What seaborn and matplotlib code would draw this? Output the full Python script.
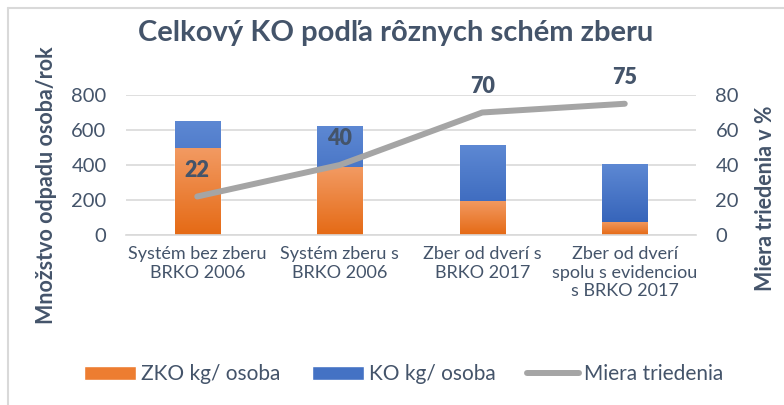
import numpy as np
import pandas as pd
import matplotlib
matplotlib.use("Agg")
import matplotlib.pyplot as plt
import seaborn as sns
from matplotlib.colors import LinearSegmentedColormap
from matplotlib.patches import Patch
from matplotlib.lines import Line2D

# data
categories = ["Systém bez zberu\nBRKO 2006", "Systém zberu s\nBRKO 2006",
              "Zber od dverí s\nBRKO 2017", "Zber od dverí\nspolu s evidenciou\ns BRKO 2017"]
zko = [496, 387, 196, 75]          # ZKO kg/ osoba
ko = [156, 236, 317, 329]          # KO kg/ osoba (stacked on top)
triedenie = [22, 40, 70, 75]       # Miera triedenia v %

txt = "#44546A"
grid_c = "#D9D9D9"

sns.set_style("white")
plt.rcParams["font.family"] = ["Lato", "DejaVu Sans"]

df = pd.DataFrame({"kat": categories, "zko": zko, "ko": ko, "mt": triedenie})
df["spolu"] = df["zko"] + df["ko"]

fig = plt.figure(figsize=(7.84, 4.05), dpi=100)
ax = fig.add_axes([126/784, 1-235/405, 570/784, 140/405])

sns.barplot(data=df, x="kat", y="spolu", color="#4472C4", width=0.316, ax=ax, zorder=2)
sns.barplot(data=df, x="kat", y="zko", color="#ED7D31", width=0.316, ax=ax, zorder=2)

# gradient fill like the office style
cm_blue = LinearSegmentedColormap.from_list("b", ["#2E5DB5", "#5D88D3"])
cm_or = LinearSegmentedColormap.from_list("o", ["#E56A15", "#F29A62"])
grad = np.linspace(0, 1, 100).reshape(-1, 1)
n = len(categories)
for i, p in enumerate(ax.patches):
    cmap = cm_blue if i < n else cm_or
    x0, y0 = p.get_x(), p.get_y()
    w, h = p.get_width(), p.get_height()
    im = ax.imshow(grad, extent=[x0, x0 + w, y0, y0 + h], origin="lower",
                   aspect="auto", cmap=cmap, zorder=2.5)
    im.set_clip_path(p)

ax.set_xlim(-0.5, n - 0.5)
ax.set_ylim(0, 800)
ax.set_yticks(range(0, 801, 200))
ax.yaxis.grid(True, color=grid_c, lw=1.2, zorder=0)
ax.set_axisbelow(True)
for s in ["top", "left", "right"]:
    ax.spines[s].set_visible(False)
ax.spines["bottom"].set_color(grid_c)
ax.spines["bottom"].set_linewidth(1.2)
ax.set_xlabel("")
ax.set_ylabel("")
ax.set_xticks(np.arange(-0.5, n, 1.0))
ax.set_xticklabels([""] * (n + 1))
ax.tick_params(axis="x", which="major", length=6, color=grid_c, width=1.2)
ax.set_xticks(np.arange(n), minor=True)
ax.set_xticklabels(categories, minor=True, fontsize=13, color=txt, linespacing=1.2)
ax.tick_params(axis="x", which="minor", length=0, pad=8)
ax.tick_params(axis="y", length=0, pad=14, labelsize=14.5, labelcolor=txt)

ax2 = ax.twinx()
sns.lineplot(x=np.arange(n), y=triedenie, color="#A5A5A5", lw=4.3, ax=ax2,
             solid_capstyle="round", zorder=3)
ax2.set_ylim(0, 80)
ax2.set_yticks(range(0, 81, 20))
ax2.tick_params(axis="y", length=0, pad=14, labelsize=14.5, labelcolor=txt)
for s in ax2.spines.values():
    s.set_visible(False)
for i, v in enumerate(triedenie):
    ax2.annotate(str(v), (i, v), xytext=(0, 19), textcoords="offset points",
                 ha="center", va="center", fontsize=15.5, fontweight="heavy", color=txt)

fig.text(0.504, 1-33/405, "Celkový KO podľa rôznych schém zberu", ha="center", va="center",
         fontsize=21, fontweight="bold", color=txt)
fig.text(47/784, 1-185/405, "Množstvo odpadu osoba/rok", rotation=90, ha="center", va="center",
         fontsize=15.5, fontweight="bold", color=txt)
fig.text(765/784, 1-198/405, "Miera triedenia v %", rotation=90, ha="center", va="center",
         fontsize=15.5, fontweight="bold", color=txt)

handles = [Patch(facecolor="#ED7D31"), Patch(facecolor="#4472C4"),
           Line2D([], [], color="#A5A5A5", lw=4.3, solid_capstyle="round")]
fig.legend(handles, ["ZKO kg/ osoba", "KO kg/ osoba", "Miera triedenia"], ncol=3,
           loc="center", bbox_to_anchor=(0.515, 1-374/405), frameon=False, fontsize=15,
           handlelength=2.5, handleheight=0.67, handletextpad=0.25, columnspacing=1.5,
           labelcolor=txt)

# outer chart border (top and left visible)
fig.add_artist(Line2D([8/784, 8/784], [0, 1-8/405], color=grid_c, lw=1.5))
fig.add_artist(Line2D([8/784, 1], [1-8/405, 1-8/405], color=grid_c, lw=1.5))

fig.savefig("out.png", dpi=100)
